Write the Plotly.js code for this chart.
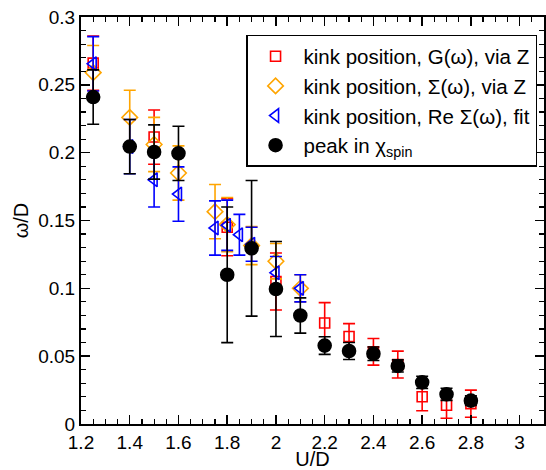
<!DOCTYPE html>
<html>
<head>
<meta charset="utf-8">
<script src="https://cdn.plot.ly/plotly-3.0.1.min.js"></script>
<style>html,body{margin:0;padding:0;background:#fff;}#chart{width:546px;height:470px;}</style>
</head>
<body>
<div id="chart"></div>
<script>
// kink position, G(omega), via Z (red squares)
const redX = [1.25, 1.5, 1.8, 2.0, 2.2, 2.3, 2.4, 2.5, 2.6, 2.7, 2.8];
const redY = [0.266, 0.2115, 0.145, 0.105, 0.0745, 0.0645, 0.0532, 0.0438, 0.0201, 0.0138, 0.015];
const redErr = [0.02, 0.02, 0.021, 0.021, 0.015, 0.0095, 0.0098, 0.0099, 0.0103, 0.0096, 0.01];

// kink position, Sigma(omega), via Z (orange diamonds)
const orangeX = [1.25, 1.4, 1.5, 1.6, 1.75, 1.8, 1.9, 2.0, 2.1];
const orangeY = [0.259, 0.226, 0.206, 0.185, 0.1565, 0.147, 0.1315, 0.120, 0.100];
const orangeErr = [0.02, 0.02, 0.02, 0.02, 0.02, 0.02, 0.014, 0.013, 0.01];

// kink position, Re Sigma(omega), fit (blue left triangles)
const blueX = [1.25, 1.4, 1.5, 1.6, 1.75, 1.8, 1.85, 1.9, 2.0, 2.1];
const blueY = [0.2655, 0.2045, 0.180, 0.1695, 0.1445, 0.1465, 0.1395, 0.1325, 0.1115, 0.100];
const blueErr = [0.02, 0.02, 0.02, 0.02, 0.02, 0.0185, 0.015, 0.0125, 0.012, 0.01];

// peak in chi_spin (black circles)
const blackX = [1.25, 1.4, 1.5, 1.6, 1.8, 1.9, 2.0, 2.1, 2.2, 2.3, 2.4, 2.5, 2.6, 2.7, 2.8];
const blackY = [0.241, 0.2045, 0.2005, 0.1995, 0.110, 0.1295, 0.0995, 0.080, 0.0578, 0.0538, 0.0518, 0.0428, 0.0307, 0.0219, 0.0172];
const blackErr = [0.02, 0.02, 0.02, 0.02, 0.05, 0.05, 0.035, 0.013, 0.0065, 0.0063, 0.005, 0.0045, 0.0045, 0.0045, 0.0035];

const names = [
  'kink position, G(\u03c9), via Z',
  'kink position, \u03a3(\u03c9), via Z',
  'kink position, Re \u03a3(\u03c9), fit',
  'peak in \u03c7<sub>spin</sub>'
];

function errTrace(x, y, e, name, color, symbol, size) {
  return {
    type: 'scatter', mode: 'markers', x: x, y: y, name: name,
    marker: {symbol: symbol, size: size, color: color, line: {color: color, width: 1.6}},
    error_y: {type: 'data', array: e, visible: true, color: color, thickness: 1.6, width: 6},
    cliponaxis: false
  };
}

const data = [
  errTrace(redX, redY, redErr, names[0], '#ff0000', 'square-open', 10),
  errTrace(orangeX, orangeY, orangeErr, names[1], '#ffa500', 'diamond-open', 12),
  errTrace(blueX, blueY, blueErr, names[2], '#0000ff', 'triangle-left-open', 12),
  errTrace(blackX, blackY, blackErr, names[3], '#000000', 'circle', 13)
];

const font = {family: 'Liberation Sans, Arial, sans-serif', color: '#000'};

const layout = {
  width: 546, height: 470,
  margin: {l: 81, r: 2, t: 17, b: 46},
  paper_bgcolor: '#fff', plot_bgcolor: '#fff',
  font: Object.assign({size: 19}, font),
  showlegend: true,
  legend: {
    x: 0.985, y: 0.956, xanchor: 'right', yanchor: 'top',
    bgcolor: '#fff', bordercolor: '#000', borderwidth: 1.5,
    font: Object.assign({size: 20.5}, font),
    itemwidth: 46,
    tracegroupgap: 0
  },
  xaxis: {
    range: [1.2, 3.1], dtick: 0.2, tick0: 1.2,
    ticks: 'inside', ticklen: 9, tickwidth: 1.5, tickcolor: '#000',
    minor: {dtick: 0.05, ticks: 'inside', ticklen: 5, tickwidth: 1.2, tickcolor: '#000'},
    showline: true, linecolor: '#000', linewidth: 2, mirror: 'allticks',
    showgrid: false, zeroline: false,
    tickfont: Object.assign({size: 19}, font),
    title: {text: 'U/D', font: Object.assign({size: 20}, font), standoff: 5}
  },
  yaxis: {
    range: [0, 0.3], dtick: 0.05, tick0: 0,
    ticks: 'inside', ticklen: 9, tickwidth: 1.5, tickcolor: '#000',
    minor: {dtick: 0.01, ticks: 'inside', ticklen: 5, tickwidth: 1.2, tickcolor: '#000'},
    showline: true, linecolor: '#000', linewidth: 2, mirror: 'allticks',
    showgrid: false, zeroline: false,
    tickfont: Object.assign({size: 19}, font),
    title: {text: '\u03c9/D', font: Object.assign({size: 20}, font), standoff: 4}
  }
};

Plotly.newPlot('chart', data, layout, {displayModeBar: false, staticPlot: true});
</script>
</body>
</html>
